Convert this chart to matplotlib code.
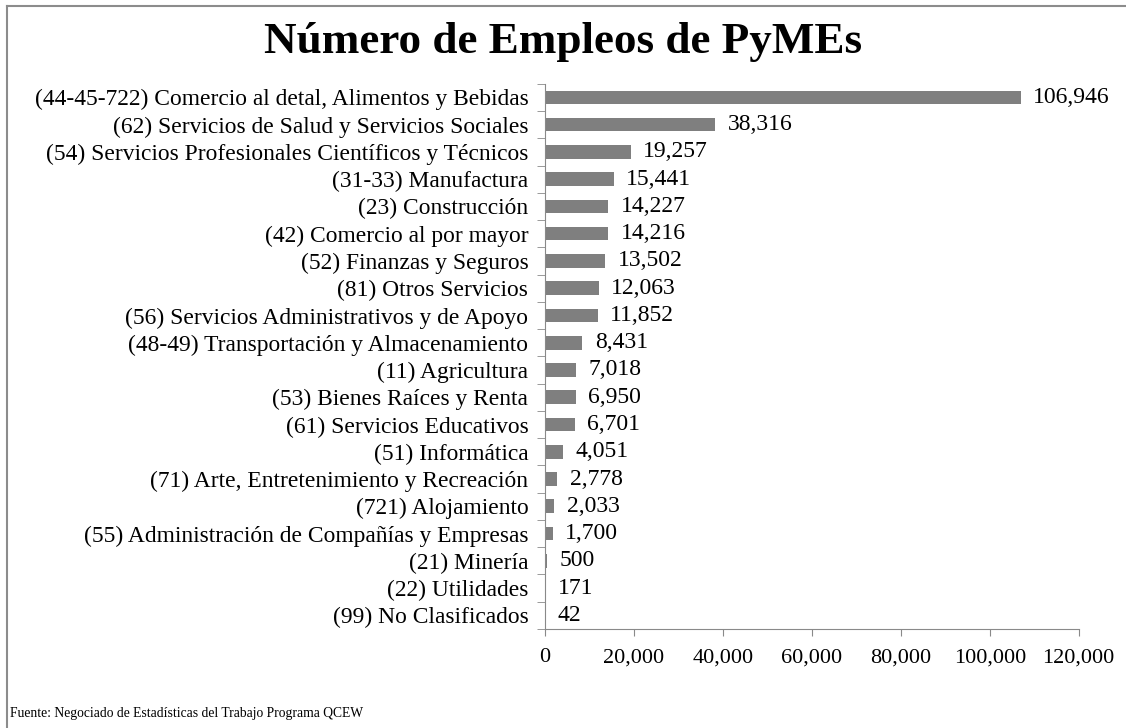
import numpy as np
import matplotlib.pyplot as plt
from matplotlib.ticker import FuncFormatter, FixedLocator

plt.rcParams['font.family'] = ['Liberation Serif', 'DejaVu Serif']

categories = [
    "(44-45-722) Comercio al detal, Alimentos y Bebidas",
    "(62) Servicios de Salud y Servicios Sociales",
    "(54) Servicios Profesionales Científicos y Técnicos",
    "(31-33) Manufactura",
    "(23) Construcción",
    "(42) Comercio al por mayor",
    "(52) Finanzas y Seguros",
    "(81) Otros Servicios",
    "(56) Servicios Administrativos y de Apoyo",
    "(48-49) Transportación y Almacenamiento",
    "(11) Agricultura",
    "(53) Bienes Raíces y Renta",
    "(61) Servicios Educativos",
    "(51) Informática",
    "(71) Arte, Entretenimiento y Recreación",
    "(721) Alojamiento",
    "(55) Administración de Compañías y Empresas",
    "(21) Minería",
    "(22) Utilidades",
    "(99) No Clasificados",
]
empleos = [106946, 38316, 19257, 15441, 14227, 14216, 13502, 12063, 11852,
           8431, 7018, 6950, 6701, 4051, 2778, 2033, 1700, 500, 171, 42]
xticks = [0, 20000, 40000, 60000, 80000, 100000, 120000]

fig = plt.figure(figsize=(11.26, 7.28), dpi=100)
ax = fig.add_axes([0.484, 0.136, 0.474, 0.749])

y = np.arange(len(categories))[::-1]
ax.barh(y, empleos, height=0.5, color='#7f7f7f')
for yi, v in zip(y, empleos):
    ax.annotate(f"{v:,}", (v, yi), xytext=(9, 0), textcoords='offset points',
                va='center', ha='left', fontsize=17)

ax.set_xlim(0, 120000)
ax.set_ylim(-0.5, len(categories) - 0.5)
ax.set_yticks(y)
ax.set_yticklabels(categories, fontsize=16.9)
ax.yaxis.set_minor_locator(FixedLocator(np.arange(-0.5, len(categories), 1)))
ax.tick_params(axis='y', which='major', length=0, pad=12)
ax.tick_params(axis='y', which='minor', length=6, color='#898989')
ax.set_xticks(xticks)
ax.xaxis.set_major_formatter(FuncFormatter(lambda v, p: f"{int(v):,}"))
ax.tick_params(axis='x', length=5, color='#898989', labelsize=16, pad=9)

for s in ['top', 'right']:
    ax.spines[s].set_visible(False)
for s in ['left', 'bottom']:
    ax.spines[s].set_color('#898989')

fig.text(0.5, 0.942, "Número de Empleos de PyMEs", ha='center', va='center',
         fontsize=32.5, fontweight='bold')
fig.text(0.009, 0.02, "Fuente: Negociado de Estadísticas del Trabajo Programa QCEW",
         ha='left', va='center', fontsize=9.8)

# outer frame (only left and top visible in the reference)
fig.add_artist(plt.Line2D([0.0065, 0.0065], [0, 0.992], color='#8c8c8c', lw=1.5,
                          transform=fig.transFigure))
fig.add_artist(plt.Line2D([0.0065, 0.999], [0.992, 0.992], color='#8c8c8c', lw=1.5,
                          transform=fig.transFigure))

fig.savefig("out.png", dpi=100)
